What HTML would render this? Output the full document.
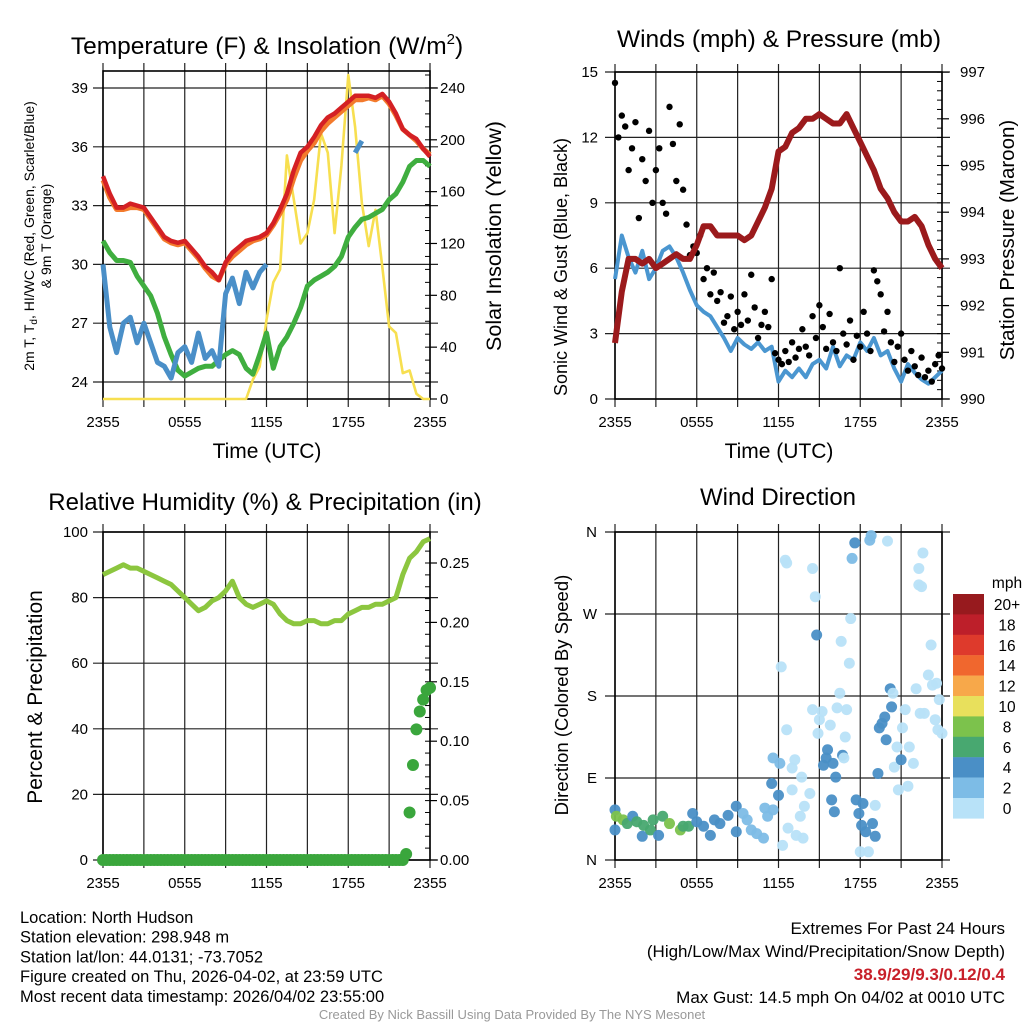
<!DOCTYPE html>
<html><head><meta charset="utf-8"><style>
body{margin:0;background:#fff;}
svg{display:block;font-family:"Liberation Sans",sans-serif;}
</style></head><body>
<svg id="c" width="1024" height="1024" viewBox="0 0 1024 1024" xmlns="http://www.w3.org/2000/svg">
<g id="layer"></g>
</svg>
<script>
// ---- data (half-hour samples, 0..24 h after 2355 UTC) ----
const xTickLabels = ["2355","0555","1155","1755","2355"];
const tempAir = [34.5,33.6,32.9,32.9,33.1,33.0,32.9,32.4,31.9,31.4,31.2,31.1,31.2,30.8,30.4,29.9,29.6,29.2,30.1,30.6,30.9,31.2,31.3,31.4,31.6,32.1,32.8,33.6,34.8,35.7,36.0,36.5,37.1,37.5,37.7,38.0,38.3,38.6,38.6,38.6,38.5,38.7,38.3,37.7,36.9,36.6,36.4,35.9,35.5];
const temp9m = [34.3,33.4,32.8,32.8,32.9,32.9,32.8,32.3,31.8,31.3,31.1,31.0,31.1,30.7,30.3,29.8,29.4,29.2,30.0,30.4,30.7,31.0,31.2,31.3,31.5,32.0,32.6,33.3,34.4,35.3,35.8,36.2,36.8,37.2,37.5,37.8,38.1,38.4,38.4,38.5,38.4,38.6,38.2,37.6,36.9,36.6,36.3,35.9,35.6];
const dewPoint = [31.2,30.6,30.2,30.2,30.1,29.4,28.9,28.4,27.5,26.3,25.4,24.6,24.3,24.5,24.7,24.8,24.8,25.1,25.4,25.6,25.4,24.7,24.4,25.4,26.5,24.7,25.8,26.3,27.0,27.8,28.9,29.2,29.4,29.6,29.9,30.4,31.4,31.9,32.3,32.4,32.6,32.8,33.3,33.6,34.2,35.0,35.3,35.3,35.0];
const windChill = [30.0,26.8,25.5,27.0,27.3,26.0,27.0,26.0,25.0,24.8,24.2,25.5,25.8,25.0,26.5,25.2,25.6,24.8,28.5,29.3,28.0,29.6,28.8,29.6,30.0,null,null,null,null,null,null,null,null,null,null,null,null,35.7,36.3,null,null,null,null,null,null,null,null,null,null];
const solar = [0,0,0,0,0,0,0,0,0,0,0,0,0,0,0,0,0,0,0,0,0,0,15,25,61,90,100,188,154,120,128,154,205,190,128,180,250,210,151,118,146,102,56,51,20,22,4,0,0];
const windSpeed = [5.5,7.5,6.5,5.8,6.8,5.5,6.0,6.8,7.0,6.5,5.8,5.0,4.3,4.0,3.8,3.3,2.8,2.2,2.8,2.5,2.3,2.6,2.2,2.4,0.8,1.3,1.0,1.4,1.0,1.6,1.8,1.4,2.4,1.5,2.0,1.8,2.6,2.2,2.8,2.0,2.2,1.4,0.8,1.6,1.2,0.9,0.7,1.0,1.3];
const pressure = [991.2,992.3,993.0,993.0,992.9,993.0,992.8,992.9,993.0,993.1,993.0,993.0,993.3,993.7,993.7,993.5,993.5,993.5,993.5,993.4,993.5,993.8,994.1,994.5,995.3,995.4,995.7,995.8,996.0,996.0,996.1,996.0,995.9,995.9,996.1,995.8,995.5,995.2,994.9,994.5,994.3,994.0,993.8,993.8,993.9,993.7,993.3,993.0,992.8];
// quarter-hour gusts
const gusts = [14.5,12,13,12.5,10.5,11.5,12.7,8.3,11,10,12.3,9,10.5,11.5,9,8.5,13.4,11.7,10,12.6,9.6,8,6.6,7,6.7,7.5,5.5,6,4.8,5.8,4.5,4.9,3.5,3.8,4.7,3.2,4.0,3.4,4.8,3.6,5.7,4.2,2.8,3.4,4.0,3.3,5.5,2.1,1.8,1.6,2.2,1.7,2.6,1.9,2.3,3.2,2.4,2.0,3.8,2.8,4.3,3.3,2.3,3.9,2.6,2.2,6.0,3.0,2.5,3.6,1.8,2.9,2.4,4.0,3.0,2.2,5.9,5.4,4.8,3.1,4.0,2.6,1.7,2.4,3.0,1.8,1.3,2.2,1.5,1.1,1.9,1.0,1.3,0.8,1.6,2.0,1.4];
const humidity = [87,88,89,90,89,89,88,87,86,85,84,82,80,78,76,77,79,80,82,85,80,78,77,78,79,78,75,73,72,72,73,73,72,72,73,73,75,76,77,77,78,78,79,80,87,92,94,97,98];
// quarter-hour precipitation
const precip = [0,0,0,0,0,0,0,0,0,0,0,0,0,0,0,0,0,0,0,0,0,0,0,0,0,0,0,0,0,0,0,0,0,0,0,0,0,0,0,0,0,0,0,0,0,0,0,0,0,0,0,0,0,0,0,0,0,0,0,0,0,0,0,0,0,0,0,0,0,0,0,0,0,0,0,0,0,0,0,0,0,0,0,0,0,0,0,0,0,0.005,0.04,0.08,0.11,0.125,0.135,0.143,0.145];
// wind direction samples
const dirTime = [0,0,0.1,0.6,0.9,1.3,1.6,2,2.1,2.6,2.8,3.2,3.5,4,4.8,5,5.4,5.7,6,6.5,7,7.3,7.7,8.3,8.9,8.9,9.4,9.7,10,10.4,10.9,11,11.2,11.5,11.6,12,11.6,12.1,12.2,12.3,12.5,12.6,12.7,12.6,13,13,13.2,13.3,13.6,13.7,13.8,13.9,14.3,14.5,14.5,14.7,14.8,14.9,15,15.2,15.3,15.5,15.6,15.8,15.9,16,16.1,16.2,16.3,16.5,16.6,16.7,16.8,16.9,17,17.2,17.3,17.4,17.6,17.7,17.9,18,18.1,18.2,18.4,18.6,18.7,18.8,18.9,19.1,19.1,19.3,19.4,19.6,19.8,19.9,20,20.2,20.3,20.4,20.5,20.7,20.8,21,21.1,21.3,21.5,21.6,21.9,22.1,22.3,22.3,22.4,22.5,22.6,22.7,23,23.2,23.3,23.5,23.6,23.7,23.8,24];
const dirDeg = [55,33,48,44,40,48,42,26,38,33,44,27,48,40,33,37,37,51,42,37,27,44,40,49,59,31,51,44,33,29,24,57,48,84,55,71,112,106,212,16,329,326,35,143,77,101,110,27,48,91,24,59,73,165,320,289,247,139,154,163,104,112,121,148,66,106,53,91,167,183,240,115,112,135,165,216,265,331,348,66,51,9,38,62,31,9,351,356,40,26,60,95,145,150,157,132,350,188,168,183,102,124,77,110,145,165,81,124,106,188,302,320,161,300,337,161,203,236,192,154,194,143,176,139];
const dirSpeed = [4,4,8,8,6,4,6,4,6,6,6,4,6,8,8,6,6,4,4,4,4,4,4,4,4,4,2,2,2,2,2,2,2,4,2,4,2,2,0,0,0,0,0,0,0,0,0,0,0,0,0,0,0,0,0,0,4,0,0,0,4,4,4,0,4,4,4,4,0,0,0,4,0,0,0,0,0,2,4,4,4,0,4,4,4,0,2,2,4,4,0,4,4,4,4,4,0,4,4,0,0,0,0,4,0,0,0,0,0,0,0,0,0,0,0,0,0,0,0,0,0,0,0,0];
const cbLabels = ["20+","18","16","14","12","10","8","6","4","2","0"];
const cbColors = ["#971a1e","#bd1f2a","#de3a2c","#f0672e","#f7a84a","#e8e05c","#7cc24c","#48a870","#4a8fc6","#7dbce6","#b8e2f8"];

const NS="http://www.w3.org/2000/svg";
const L=document.getElementById('layer');
function mk(tag,attrs,parent){const e=document.createElementNS(NS,tag);for(const k in attrs)e.setAttribute(k,attrs[k]);(parent||L).appendChild(e);return e;}
function txt(s,x,y,size,anchor,extra){const t=mk('text',Object.assign({x:x,y:y,'font-size':size,'text-anchor':anchor||'middle',fill:'#000'},extra||{}));t.textContent=s;return t;}

function panelX(x0,x1){return h=>x0+(x1-x0)*h/24;}
function linePath(vals,step,fx,fy){let d='',pen=false;vals.forEach((v,i)=>{if(v===null){pen=false;return;}d+=(pen?'L':'M')+fx(i*step).toFixed(1)+','+fy(v).toFixed(1);pen=true;});return d;}

function frame(x0,x1,y0,y1,yTicks,fy){
  const g=mk('g',{});
  
  
  const fx=panelX(x0,x1);
  for(let h=0;h<=24;h+=3){mk('line',{x1:fx(h),x2:fx(h),y1:y0-8,y2:y1+8,stroke:'#222','stroke-width':1.2},g);}
  yTicks.forEach(v=>{mk('line',{x1:x0-10,x2:x1+8,y1:fy(v),y2:fy(v),stroke:'#222','stroke-width':1.2},g);});
  mk('rect',{x:x0,y:y0,width:x1-x0,height:y1-y0,fill:'none',stroke:'#000','stroke-width':1.6},g);
  xTickLabels.forEach((s,i)=>{const t=txt(s,fx(i*6),y1+28,15);
    });
}
function leftLabels(vals,fy,x,fmt){vals.forEach(v=>{const t=txt(fmt?fmt(v):String(v),x,fy(v)+5,15,'end');
  });}
function rightAxis(vals,fy,x0,x,fmt,minor){minor.forEach(v=>{mk('line',{x1:x0,x2:x0-5,y1:fy(v),y2:fy(v),stroke:'#000','stroke-width':1});});
  vals.forEach(v=>{mk('line',{x1:x0,x2:x0+7,y1:fy(v),y2:fy(v),stroke:'#000','stroke-width':1.2});
  const t=txt(fmt?fmt(v):String(v),x,fy(v)+5,15,'start');});}
function rot(s,x,y,size,name){const t=txt(s,x,y,size,'middle',{transform:'rotate(-90 '+x+' '+y+')'});return t;}

// ===== Panel 1 =====
(function(){
  const x0=103,x1=430,y0=71,y1=399;const fx=panelX(x0,x1);
  const fT=v=>382-(v-24)*19.6, fS=v=>399-v*1.296;
  frame(x0,x1,y0,y1,[24,27,30,33,36,39],fT);
  leftLabels([24,27,30,33,36,39],fT,88);
  const mn=[];for(let v=0;v<=250;v+=10)mn.push(v);
  rightAxis([0,40,80,120,160,200,240],fS,x1,440,null,mn);
  let p=mk('path',{d:linePath(solar,0.5,fx,fS),fill:'none',stroke:'#f7df50','stroke-width':2.6,'stroke-linejoin':'round'});
  
  p=mk('path',{d:linePath(dewPoint,0.5,fx,fT),fill:'none',stroke:'#3fae3f','stroke-width':5,'stroke-linejoin':'round'});
  
  p=mk('path',{d:linePath(windChill,0.5,fx,fT),fill:'none',stroke:'#4a8fc8','stroke-width':5,'stroke-linejoin':'round'});
  
  p=mk('path',{d:linePath(temp9m,0.5,fx,fT),fill:'none',stroke:'#f37a2c','stroke-width':5,'stroke-linejoin':'round'});
  
  p=mk('path',{d:linePath(tempAir,0.5,fx,fT),fill:'none',stroke:'#d42024','stroke-width':4.5,'stroke-linejoin':'round'});
  
  let t=txt('',267,54,24.5);t.innerHTML='Temperature (F) &amp; Insolation (W/m<tspan dy="-10" font-size="15">2</tspan><tspan dy="10">)</tspan>';
  
  t=txt('Time (UTC)',267,458,21);
  t=rot('',34,236,14,'temperature-y-title');t.innerHTML='2m T, T<tspan dy="3" font-size="10">d</tspan><tspan dy="-3">, HI/WC (Red, Green, Scarlet/Blue)</tspan>';
  rot('& 9m T (Orange)',51,236,14,'temperature-y-title-2');
  rot('Solar Insolation (Yellow)',501,236,21.5,'solar-y-title');
})();

// ===== Panel 2 =====
(function(){
  const x0=615,x1=942,y0=72,y1=399;const fx=panelX(x0,x1);
  const fW=v=>399-v*21.8, fP=v=>399-(v-990)*46.7;
  frame(x0,x1,y0,y1,[0,3,6,9,12,15],fW);
  leftLabels([0,3,6,9,12,15],fW,598);
  const mn=[];for(let v=990;v<=997.01;v+=0.2)mn.push(+v.toFixed(1));
  rightAxis([990,991,992,993,994,995,996,997],fP,x1,960,null,mn);
  let p=mk('path',{d:linePath(windSpeed,0.5,fx,fW),fill:'none',stroke:'#4a96d0','stroke-width':4,'stroke-linejoin':'round'});
  
  gusts.forEach((v,i)=>{const c=mk('circle',{cx:fx(i*0.25),cy:fW(v),r:3.2,fill:'#000'});
    });
  p=mk('path',{d:linePath(pressure,0.5,fx,fP),fill:'none',stroke:'#9b1a1c','stroke-width':6,'stroke-linejoin':'round'});
  
  let t=txt('Winds (mph) & Pressure (mb)',779,47,24.5);
  t=txt('Time (UTC)',779,458,21);
  rot('Sonic Wind & Gust (Blue, Black)',567,267,18,'wind-y-title');
  rot('Station Pressure (Maroon)',1014,240,20.5,'pressure-y-title');
})();

// ===== Panel 3 =====
(function(){
  const x0=103,x1=430,y0=532,y1=860;const fx=panelX(x0,x1);
  const fR=v=>860-v*3.28, fPr=v=>860-v*1188;
  frame(x0,x1,y0,y1,[0,20,40,60,80,100],fR);
  leftLabels([0,20,40,60,80,100],fR,88);
  const mn=[];for(let v=0;v<=0.275;v+=0.01)mn.push(v);
  rightAxis([0,0.05,0.1,0.15,0.2,0.25],fPr,x1,440,v=>v.toFixed(2),mn);
  let p=mk('path',{d:linePath(humidity,0.5,fx,fR),fill:'none',stroke:'#8cc63f','stroke-width':5,'stroke-linejoin':'round'});
  
  precip.forEach((v,i)=>{const c=mk('circle',{cx:fx(i*0.25),cy:fPr(v),r:6,fill:'#3aa63c'});
    });
  let t=txt('Relative Humidity (%) & Precipitation (in)',265,510,24);
  rot('Percent & Precipitation',42,697,21,'humidity-y-title');
})();

// ===== Panel 4 =====
(function(){
  const x0=615,x1=942,y0=532,y1=860;const fx=panelX(x0,x1);
  const fD=v=>860-v*0.9111;
  frame(x0,x1,y0,y1,[0,90,180,270,360],fD);
  leftLabels([0,90,180,270,360],fD,597,v=>['N','E','S','W','N'][v/90]);
  const colorFor=s=>cbColors[10-Math.min(10,Math.round(s/2))];
  dirTime.forEach((h,i)=>{const c=mk('circle',{cx:fx(h),cy:fD(dirDeg[i]),r:5.5,fill:colorFor(dirSpeed[i]),'fill-opacity':0.95});
    });
  let t=txt('Wind Direction',778,505,24);
  rot('Direction (Colored By Speed)',568,695,18.5,'direction-y-title');
  const g=mk('g',{});
  cbColors.forEach((c,i)=>{mk('rect',{x:953,y:594+i*20.4,width:31,height:20.6,fill:c},g);
    const l=txt(cbLabels[i],1007,594+i*20.4+16,15.5);});
  t=txt('mph',1007,588,15.5);
})();

// ===== Footer text =====
const leftInfo=["Location: North Hudson","Station elevation: 298.948 m","Station lat/lon: 44.0131; -73.7052","Figure created on Thu, 2026-04-02, at 23:59 UTC","Most recent data timestamp: 2026/04/02 23:55:00"];
leftInfo.forEach((s,i)=>{const t=txt(s,20,923+i*19.7,16.5,'start');});
let e=txt('Extremes For Past 24 Hours',1005,934,17,'end');
e=txt('(High/Low/Max Wind/Precipitation/Snow Depth)',1005,957,17,'end');
e=txt('38.9/29/9.3/0.12/0.4',1005,980,17,'end',{fill:'#c8202a','font-weight':'bold'});
e=txt('Max Gust: 14.5 mph On 04/02 at 0010 UTC',1005,1003,17,'end');
e=txt('Created By Nick Bassill Using Data Provided By The NYS Mesonet',512,1019,13,'middle',{fill:'#999'});
</script>
</body></html>
